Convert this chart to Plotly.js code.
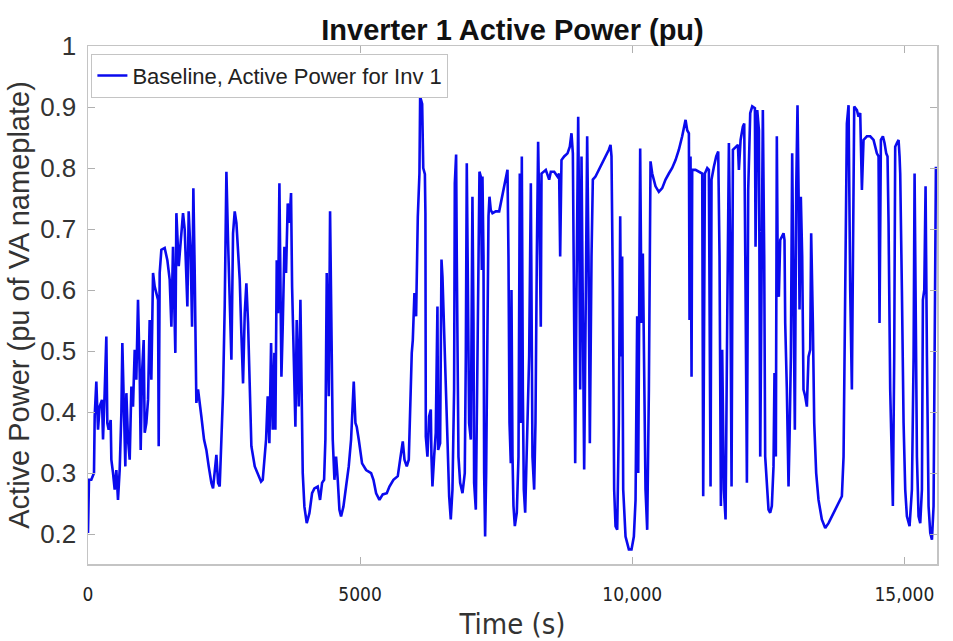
<!DOCTYPE html>
<html>
<head>
<meta charset="utf-8">
<script src="https://cdn.plot.ly/plotly-3.0.1.min.js"></script>
<style>html,body{margin:0;padding:0;background:#fff;}#chart{width:953px;height:641px;}</style>
</head>
<body>
<div id="chart"></div>
<script>
// Time (s) and active power (pu), in segments
var time1 = [
  0,18,61,110,123,153,184,214,257,276,
  306,337,355,380,417,429,460,490,521,551,
  582,613,631,662,686,705,735,766,797,827,
  858,888,919,950,968,993,1023,1042,1072,1103,
  1133,1164,1195,1225,1256,1287,1299,1317,1348,1409,
  1458,1501,1532,1562,1605,1624,1667,1703,1746,1777,
  1826,1850,1887,1912,1936,1961,1991,2022,2053,2083,
  2132,2175,2218,2267,2298,2328,2359,2390,2420,2451,
  2481,2512,2543,2573,2604,2635,2665,2696,2727,2757,
  2788,2818,2849,2880,2910,2941,2972,3002,3064];
var power1 = [
  0.202,0.289,0.289,0.300,0.393,0.450,0.371,0.409,0.420,0.355,
  0.431,0.524,0.382,0.371,0.387,0.322,0.300,0.273,0.305,0.256,
  0.305,0.398,0.513,0.382,0.311,0.431,0.355,0.322,0.442,0.409,
  0.502,0.453,0.584,0.464,0.338,0.464,0.518,0.366,0.382,0.420,
  0.551,0.453,0.628,0.606,0.595,0.584,0.344,0.628,0.666,0.669,
  0.649,0.617,0.540,0.671,0.497,0.726,0.639,0.682,0.726,0.699,
  0.573,0.729,0.655,0.540,0.767,0.628,0.415,0.437,0.409,0.393,
  0.355,0.338,0.311,0.284,0.275,0.300,0.330,0.284,0.278,0.355,
  0.431,0.573,0.794,0.682,0.562,0.486,0.693,0.729,0.710,0.660,
  0.617,0.529,0.447,0.562,0.611,0.546,0.420,0.344,0.311];

var time2 = [
  3180,3211,3272,3302,3333,3364,3394,3425,3443,3468,
  3492,3517,3535,3554,3578,3609,3639,3670,3701,3731,
  3750,3774,3811,3835,3872,3903,3934,3946,3976,4019,
  4068,4117,4160,4221,4264,4301,4338,4362,4387,4424,
  4448,4473,4497,4528,4558,4589,4620,4650,4693,4742,
  4791,4834,4865,4883,4914,4938,4975,5036,5110,5202,
  5245,5294,5355,5416,5490,5539,5612,5692,5735,5784,
  5815,5857,5894,5925,5949,5968,5998,6029,6060,6090,
  6103,6140,6160,6190,6200];
var power2 = [
  0.286,0.289,0.355,0.426,0.349,0.513,0.371,0.497,0.371,0.649,
  0.562,0.775,0.573,0.458,0.540,0.671,0.628,0.742,0.710,0.759,
  0.606,0.518,0.376,0.551,0.409,0.584,0.355,0.300,0.245,0.218,
  0.234,0.267,0.275,0.278,0.256,0.284,0.289,0.355,0.628,0.426,
  0.729,0.573,0.355,0.289,0.327,0.289,0.240,0.229,0.245,0.278,
  0.311,0.355,0.409,0.450,0.382,0.376,0.355,0.316,0.305,0.300,
  0.289,0.267,0.256,0.265,0.267,0.278,0.289,0.295,0.322,0.352,
  0.322,0.311,0.322,0.453,0.497,0.518,0.595,0.557,0.720,0.791,
  0.917,0.905,0.800,0.790,0.726];

var time3 = [
  6207,6237,6268,6299,6311,6329,6360,6390,6421,6433,
  6470,6495,6513,6544,6556,6574,6605,6636,6666,6697,
  6727,6740,6764,6776,6789,6807,6838,6881,6923,6942,
  6960,6985,7003,7034,7064,7083,7095,7126,7144,7169,
  7193,7218,7236,7248,7267,7279,7297,7316,7340,7359,
  7377,7401,7432,7493,7555,7585,7646,7708,7726,7745,
  7769,7781,7800,7818,7843,7879,7910,7934,7953,7971,
  7990,8008,8033,8063,8106,8137,8167,8198,8222,8247,
  8271,8296,8320,8333,8369,8412,8474,8504,8566,8627,
  8657,8676,8700,8749,8811,8853,8884,8909,8933,8952,
  8976,9007,9025,9044,9068,9092,9117,9148,9172,9197,
  9221,9252,9276];
var power3 = [
  0.360,0.327,0.393,0.404,0.327,0.278,0.327,0.366,0.573,0.338,
  0.349,0.650,0.622,0.519,0.480,0.437,0.355,0.262,0.224,0.273,
  0.437,0.775,0.822,0.655,0.437,0.327,0.284,0.267,0.300,0.491,
  0.808,0.600,0.382,0.355,0.753,0.546,0.284,0.240,0.382,0.546,
  0.794,0.786,0.633,0.786,0.655,0.300,0.196,0.300,0.519,0.721,
  0.753,0.731,0.726,0.729,0.729,0.742,0.770,0.797,0.655,0.382,
  0.316,0.600,0.327,0.246,0.213,0.235,0.327,0.791,0.382,0.819,
  0.437,0.273,0.235,0.327,0.491,0.775,0.327,0.273,0.382,0.655,
  0.843,0.710,0.540,0.791,0.794,0.797,0.781,0.794,0.794,0.786,
  0.791,0.655,0.813,0.819,0.824,0.835,0.857,0.824,0.546,0.316,
  0.600,0.884,0.710,0.437,0.819,0.491,0.306,0.600,0.852,0.655,
  0.349,0.655,0.781];

var time4 = [
  9325,9387,9448,9509,9570,9601,9619,9644,9668,9693,
  9724,9754,9779,9797,9815,9834,9877,9938,9987,10030,
  10061,10091,10110,10146,10171,10195,10220,10244,10275,10306,
  10336,10367,10428,10489,10551,10612,10673,10734,10796,10857,
  10918,10980,11010,11041,11053,11071,11090,11102,11163,11225,
  11286,11304,11335,11378,11408,11439,11457,11500,11543,11580,
  11604,11629,11653,11684,11715,11745,11776,11801,11825,11850,
  11899,11942,11960,11991,12033,12058,12082,12107,12131,12168,
  12205,12254,12266,12297,12328,12352];
var power4 = [
  0.786,0.797,0.808,0.819,0.830,0.838,0.819,0.600,0.273,0.213,
  0.207,0.382,0.721,0.491,0.655,0.273,0.196,0.175,0.175,0.196,
  0.256,0.557,0.300,0.832,0.546,0.660,0.491,0.273,0.207,0.437,
  0.811,0.791,0.770,0.761,0.767,0.781,0.791,0.800,0.813,0.830,
  0.852,0.879,0.862,0.857,0.551,0.819,0.458,0.797,0.797,0.794,
  0.791,0.262,0.791,0.800,0.797,0.278,0.781,0.802,0.819,0.827,
  0.655,0.246,0.502,0.273,0.224,0.546,0.841,0.655,0.278,0.830,
  0.835,0.838,0.797,0.846,0.868,0.873,0.600,0.284,0.764,0.890,
  0.901,0.898,0.671,0.895,0.862,0.327];

var time5 = [
  12400,12425,12443,12474,12504,12535,12565,12596,12614,12639,
  12657,12676,12694,12719,12749,12780,12798,12811,12841,12872,
  12890,12915,12939,12964,12988,13013,13037,13056,13074,13098,
  13123,13147,13178,13209,13239,13270,13288,13319,13344,13380,
  13423,13484,13546,13607,13668,13730,13791,13852,13883,13901,
  13920,13944,13975,14005,14036,14054,14079,14128,14158,14189,
  14220,14250,14312,14373,14434,14465,14495,14526,14544,14569,
  14606,14636,14667,14691,14710,14740,14771,14789,14814,14832,
  14863,14894,14912,14924,14955,14986,15016,15047,15096,15139,
  15170,15188,15206,15231,15261,15292,15323,15341,15366,15390,
  15415,15445,15476,15507,15537,15556,15580];
var power5 = [
  0.895,0.655,0.327,0.273,0.240,0.235,0.246,0.311,0.464,0.327,
  0.852,0.600,0.589,0.682,0.688,0.693,0.682,0.546,0.437,0.278,
  0.355,0.491,0.824,0.600,0.371,0.764,0.903,0.764,0.568,0.753,
  0.655,0.437,0.426,0.409,0.491,0.502,0.693,0.546,0.382,0.300,
  0.256,0.224,0.210,0.218,0.229,0.240,0.251,0.262,0.327,0.491,
  0.628,0.873,0.903,0.600,0.437,0.628,0.901,0.895,0.884,0.890,
  0.764,0.846,0.852,0.852,0.846,0.835,0.824,0.819,0.546,0.846,
  0.852,0.841,0.824,0.819,0.710,0.437,0.273,0.246,0.491,0.835,
  0.841,0.846,0.819,0.791,0.600,0.382,0.273,0.229,0.213,0.273,
  0.491,0.791,0.600,0.327,0.229,0.218,0.273,0.584,0.600,0.770,
  0.491,0.246,0.202,0.191,0.246,0.600,0.802];

var xTickVals = [0, 5000, 10000, 15000];
var xTickText = ['0', '5000', '10,000', '15,000'];
var yTickVals = [0.2, 0.3, 0.4, 0.5, 0.6, 0.7, 0.8, 0.9, 1];
var yTickText = ['0.2', '0.3', '0.4', '0.5', '0.6', '0.7', '0.8', '0.9', '1'];

var timeAll = time1.concat(time2, time3, time4, time5);
var powerAll = power1.concat(power2, power3, power4, power5);

var trace = {
  x: timeAll, y: powerAll,
  type: 'scatter', mode: 'lines',
  name: 'Baseline, Active Power for Inv 1',
  line: {color: '#0a0aee', width: 2.6}
};

var condensed = 'DejaVu Sans Condensed, Liberation Sans Narrow, Liberation Sans, sans-serif';

var layout = {
  width: 953, height: 641,
  margin: {l: 88, r: 16, t: 46, b: 77},
  paper_bgcolor: '#fff', plot_bgcolor: '#fff',
  font: {family: 'Liberation Sans, Arial, sans-serif', color: '#262626'},
  title: {
    text: '<b>Inverter 1 Active Power (pu)</b>',
    font: {family: 'Liberation Sans, Arial, sans-serif', size: 29, color: '#111'},
    xref: 'paper', x: 0.5, xanchor: 'center',
    yref: 'container', y: 0.953, yanchor: 'middle'
  },
  showlegend: true,
  legend: {
    x: 0.004, y: 0.985, xanchor: 'left', yanchor: 'top',
    bgcolor: '#fff', bordercolor: '#c4c4c4', borderwidth: 1,
    font: {family: 'Liberation Sans, Arial, sans-serif', size: 22, color: '#222'},
    tracegroupgap: 0
  },
  xaxis: {
    range: [0, 15600],
    tickvals: xTickVals, ticktext: xTickText,
    ticks: 'inside', ticklen: 7, tickwidth: 1, tickcolor: '#b0b0b0',
    showline: true, linecolor: '#c4c4c4', linewidth: 1.5, mirror: 'ticks',
    showgrid: false, zeroline: false,
    tickfont: {family: condensed, size: 19, color: '#222'},
    ticklabelstandoff: 13,
    title: {text: 'Time (s)', font: {family: condensed, size: 29, color: '#333'}, standoff: 10}
  },
  yaxis: {
    range: [0.151, 1.0],
    tickvals: yTickVals, ticktext: yTickText,
    ticks: 'inside', ticklen: 7, tickwidth: 1, tickcolor: '#b0b0b0',
    showline: true, linecolor: '#c4c4c4', linewidth: 1.5, mirror: 'ticks',
    showgrid: false, zeroline: false,
    tickfont: {family: 'Liberation Sans, Arial, sans-serif', size: 26, color: '#333'},
    ticklabelstandoff: 5,
    title: {text: 'Active Power (pu of VA nameplate)', font: {family: 'Liberation Sans, Arial, sans-serif', size: 29, color: '#333'}, standoff: 2}
  }
};

Plotly.newPlot('chart', [trace], layout, {displayModeBar: false, staticPlot: true});
</script>
</body>
</html>
